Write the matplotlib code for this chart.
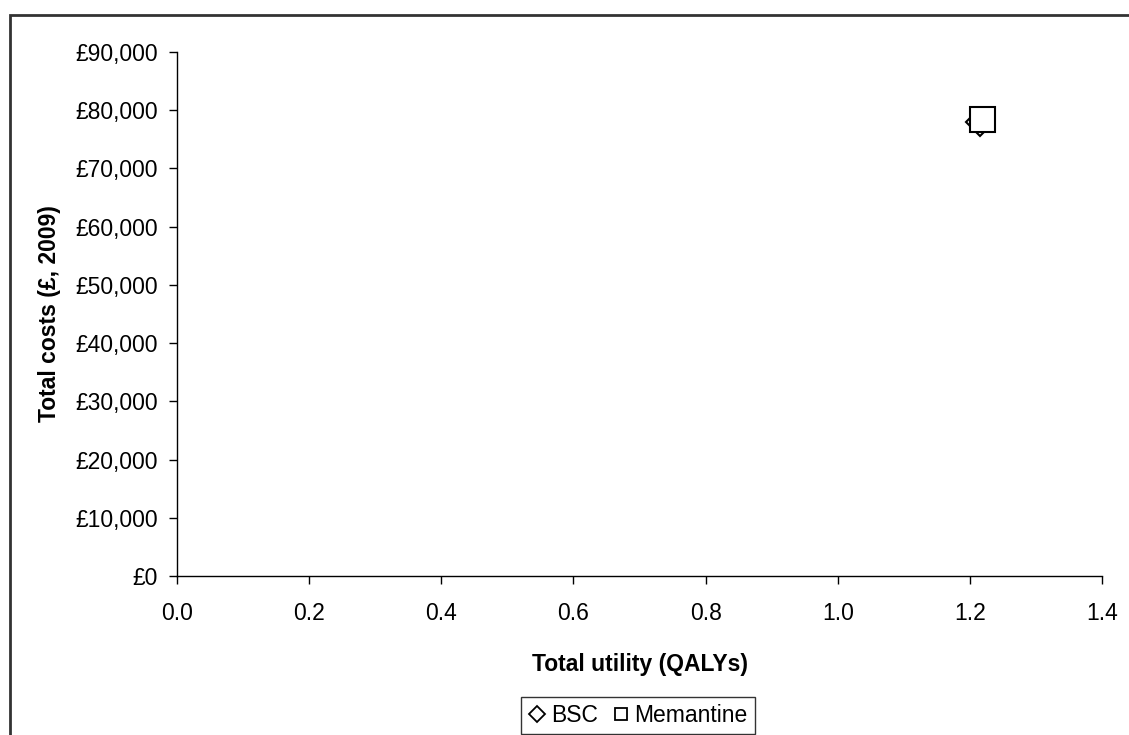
import matplotlib.pyplot as plt
from matplotlib.patches import Rectangle
from matplotlib.ticker import FuncFormatter

plt.rcParams['font.family'] = ['Liberation Sans', 'DejaVu Sans']

# results (QALYs, £ 2009)
series = ["BSC", "Memantine"]
qalys = [1.216, 1.218]
costs = [78000, 78500]
markers = ["D", "s"]

xticks = [0.0, 0.2, 0.4, 0.6, 0.8, 1.0, 1.2, 1.4]
yticks = [0, 10000, 20000, 30000, 40000, 50000, 60000, 70000, 80000, 90000]

fig = plt.figure(figsize=(11.29, 7.35), dpi=100)
ax = fig.add_axes([177/1129, 1 - 576/735, (1102 - 177)/1129, (576 - 52)/735])

sizes = [14, 18]
for name, x, y, m, s in zip(series, qalys, costs, markers, sizes):
    ax.plot(x, y, linestyle="none", marker=m, markersize=s,
            markerfacecolor="white", markeredgecolor="black", markeredgewidth=1.5,
            label=name, clip_on=False)

ax.set_xlim(0, 1.4)
ax.set_ylim(0, 90000)
ax.set_xticks(xticks)
ax.set_yticks(yticks)
ax.xaxis.set_major_formatter(FuncFormatter(lambda v, p: f"{v:.1f}"))
ax.yaxis.set_major_formatter(FuncFormatter(lambda v, p: f"£{v:,.0f}"))
ax.tick_params(direction="out", length=6, width=1, labelsize=16.5, pad=8)
ax.tick_params(axis="x", pad=13)
for side in ["top", "right"]:
    ax.spines[side].set_visible(False)
for side in ["left", "bottom"]:
    ax.spines[side].set_linewidth(1)

ax.set_xlabel("Total utility (QALYs)", fontsize=16.5, fontweight="bold", labelpad=20)
ax.set_ylabel("Total costs (£, 2009)", fontsize=16.5, fontweight="bold", labelpad=10)

# legend with small markers
handles = [plt.Line2D([], [], linestyle="none", marker=m, markersize=9 if m == "s" else 8,
                      markerfacecolor="white", markeredgecolor="black", markeredgewidth=1.3)
           for m in markers]
leg = fig.legend(handles, series, loc="upper center", bbox_to_anchor=(638/1129, 1 - 697/735),
                 ncol=2, fontsize=16.5, frameon=True, fancybox=False, handlelength=0.8,
                 handletextpad=0.2, columnspacing=0.6, borderpad=0.3, borderaxespad=0)
leg.get_frame().set_edgecolor("black")
leg.get_frame().set_linewidth(1)

# outer chart border
fig.patches.append(Rectangle((10/1129, -0.05), 1.2, 1 - 15/735 + 0.05,
                             transform=fig.transFigure, fill=False,
                             edgecolor="#333333", linewidth=2))

fig.savefig("out.png", dpi=100)
